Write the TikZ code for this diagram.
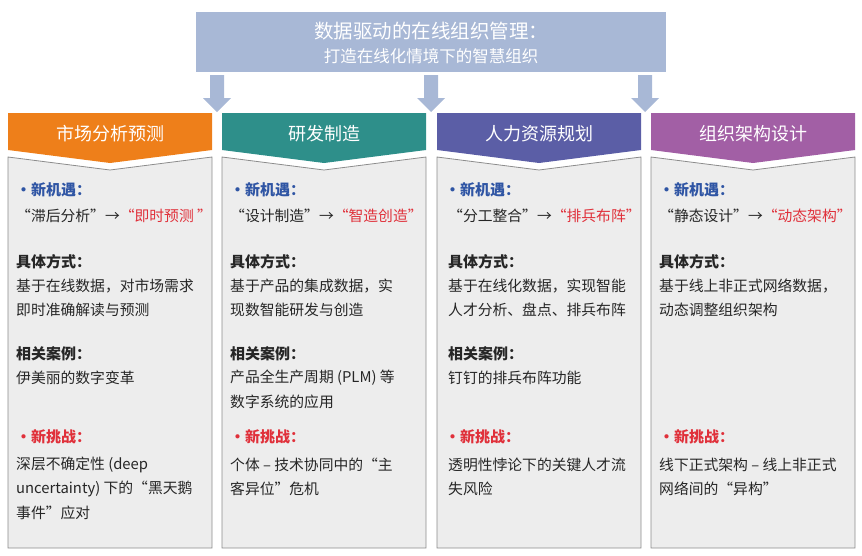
\documentclass[tikz,border=0pt]{standalone}
\usepackage{fontspec}
\setmainfont{Noto Sans CJK SC}
\begin{document}
\begin{tikzpicture}[x=1pt,y=-1pt,
 txt/.style={anchor=west,inner sep=0pt,font=\fontsize{14.8}{16}\selectfont,text=black!85},
 bold/.style={txt,font=\fontsize{15}{16}\selectfont\bfseries},
 hd/.style={text=white,font=\fontsize{18}{20}\selectfont},
 panel/.style={fill=black!7,draw=black!45,line width=0.8pt}]
\definecolor{arrowc}{HTML}{A8B8D6}
\definecolor{c1}{HTML}{EE7F1A}
\definecolor{c2}{HTML}{2E8F8A}
\definecolor{c3}{HTML}{5B5EA6}
\definecolor{c4}{HTML}{A25FA5}
\definecolor{bl}{HTML}{2F55A4}
\definecolor{rd}{HTML}{E0303A}
\useasboundingbox (0,0) rectangle (862,555);
\fill[arrowc] (196,12) rectangle (666,72);
\node[text=white,font=\fontsize{19.5}{22}\selectfont] (t1) at (431,31) {数据驱动的在线组织管理：};
\node[text=white,font=\fontsize{16.5}{20}\selectfont] (t2) at (431,56) {打造在线化情境下的智慧组织};
\foreach \x in {217,431,645}{
 \fill[arrowc] (\x-7,75) -- (\x+7,75) -- (\x+7,98) -- (\x+14,98) -- (\x,112) -- (\x-14,98) -- (\x-7,98) -- cycle;}
\foreach \c/\x/\t in {c1/8/市场分析预测,c2/222/研发制造,c3/437/人力资源规划,c4/651/组织架构设计}{
 \fill[\c] (\x,113) -- (\x+204,113) -- (\x+204,150) -- (\x+102,163) -- (\x,150) -- cycle;
 \node[hd] at (\x+102,134) {\t};
 \draw[panel] (\x,157) -- (\x+102,170) -- (\x+204,157) -- (\x+204,548) -- (\x,548) -- cycle;
 \node[txt,text=bl,font=\fontsize{15}{16}\selectfont\bfseries] at (\x+8,190) {•新机遇：};
}
% column 1
\node[txt] at (16,216) {“滞后分析”→\textcolor{rd}{“即时预测 ”}};
\node[bold] at (16,262) {具体方式：};
\node[txt] at (16,286) {基于在线数据，对市场需求};
\node[txt] at (16,310) {即时准确解读与预测};
\node[bold] at (16,354) {相关案例：};
\node[txt] at (16,378) {伊美丽的数字变革};
\node[txt] at (16,465) {深层不确定性 (deep};
\node[txt] at (16,489) {uncertainty) 下的“黑天鹅};
\node[txt] at (16,513) {事件”应对};
% column 2
\node[txt] at (230,216) {“设计制造”→\textcolor{rd}{“智造创造”}};
\node[bold] at (230,262) {具体方式：};
\node[txt] at (230,286) {基于产品的集成数据，实};
\node[txt] at (230,310) {现数智能研发与创造};
\node[bold] at (230,354) {相关案例：};
\node[txt] at (230,378) {产品全生产周期 (PLM) 等};
\node[txt] at (230,402) {数字系统的应用};
\node[txt] at (230,465) {个体 – 技术协同中的“主};
\node[txt] at (230,489) {客异位”危机};
% column 3
\node[txt] at (448,216) {“分工整合”→\textcolor{rd}{“排兵布阵”}};
\node[bold] at (448,262) {具体方式：};
\node[txt] at (448,286) {基于在线化数据，实现智能};
\node[txt] at (448,310) {人才分析、盘点、排兵布阵};
\node[bold] at (448,354) {相关案例：};
\node[txt] at (448,378) {钉钉的排兵布阵功能};
\node[txt] at (448,465) {透明性悖论下的关键人才流};
\node[txt] at (448,489) {失风险};
% column 4
\node[txt] at (659,216) {“静态设计”→\textcolor{rd}{“动态架构”}};
\node[bold] at (659,262) {具体方式：};
\node[txt] at (659,286) {基于线上非正式网络数据，};
\node[txt] at (659,310) {动态调整组织架构};
\node[txt] at (659,465) {线下正式架构 – 线上非正式};
\node[txt] at (659,489) {网络间的“异构”};
\foreach \x in {8,222,437,651}
 \node[txt,text=rd,font=\fontsize{15}{16}\selectfont\bfseries] at (\x+8,437) {•新挑战：};
\end{tikzpicture}
\end{document}
